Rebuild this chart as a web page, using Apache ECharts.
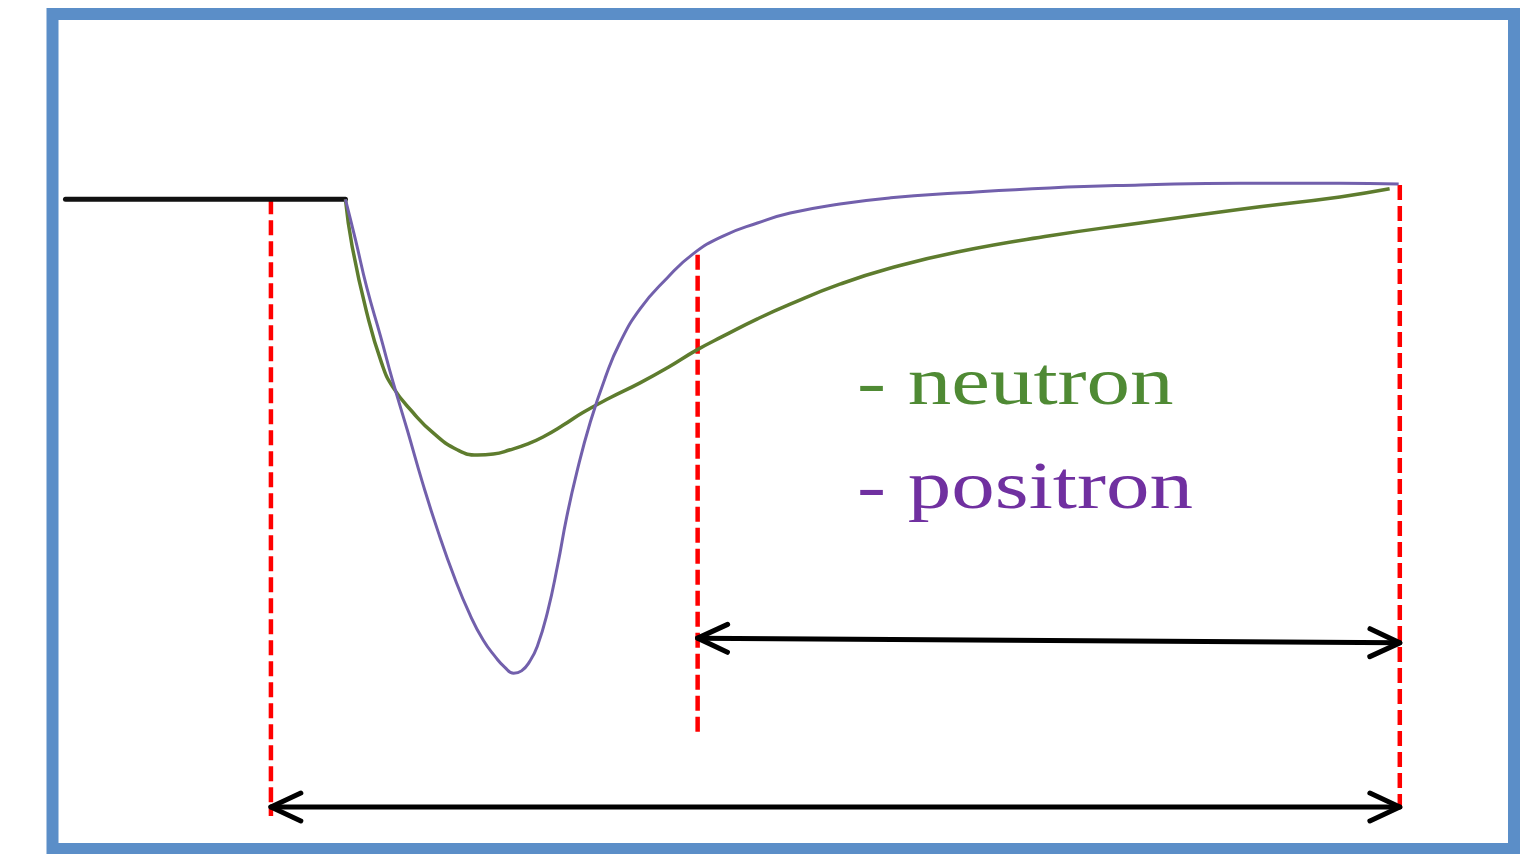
<!DOCTYPE html>
<html>
<head>
<meta charset="utf-8">
<title>neutron / positron pulse</title>
<script src="https://cdn.jsdelivr.net/npm/echarts@6.0.0/dist/echarts.min.js"></script>
<style>
  html, body { margin: 0; padding: 0; background: #fff; }
  #pulse-chart { width: 1533px; height: 854px; }
</style>
</head>
<body>
<div id="pulse-chart"></div>
<script>
// time (ns, arbitrary) and normalised amplitude
const baselineTime = [-182, 66];
const baselineAmp = [0, 0];

const positronTime = [66, 75, 85, 97, 108, 121, 134, 148, 163, 176, 188, 199, 207, 215, 222, 229, 236, 245, 254, 262, 271, 283, 296, 309, 327, 351, 374, 401, 431, 460, 504, 549, 608, 690, 770, 859, 947, 999];
const positronAmp = [0, -0.086, -0.187, -0.288, -0.384, -0.488, -0.595, -0.700, -0.800, -0.874, -0.929, -0.965, -0.986, -0.999, -0.994, -0.975, -0.942, -0.870, -0.771, -0.670, -0.575, -0.469, -0.377, -0.303, -0.231, -0.166, -0.115, -0.077, -0.050, -0.029, -0.010, 0.003, 0.013, 0.024, 0.030, 0.034, 0.034, 0.032];

const neutronTime = [66, 72, 85, 98, 108, 126, 144, 165, 183, 197, 212, 227, 241, 259, 276, 300, 327, 352, 377, 401, 431, 460, 504, 549, 608, 690, 770, 859, 947, 991];
const neutronAmp = [0, -0.100, -0.240, -0.345, -0.396, -0.450, -0.493, -0.528, -0.539, -0.537, -0.528, -0.516, -0.501, -0.476, -0.450, -0.419, -0.387, -0.354, -0.318, -0.288, -0.252, -0.221, -0.179, -0.145, -0.111, -0.077, -0.050, -0.021, 0.005, 0.022];

// red dashed gate markers
const markerTime = [0, 378, 1000];
const markerTop = [0, -0.117, 0.030];
const markerBottom = [-1.30, -1.133, -1.287];

// double arrows (start time, start amp, end time, end amp)
const arrowStartTime = [378, 0];
const arrowStartAmp = [-0.925, -1.281];
const arrowEndTime = [1000, 1000];
const arrowEndAmp = [-0.935, -1.281];

const legendLabels = ["- neutron", "- positron"];

const zip = (xs, ys) => xs.map((x, i) => [x, ys[i]]);

const drawArrow = (params, api) => {
  const p1 = api.coord([api.value(0), api.value(1)]);
  const p2 = api.coord([api.value(2), api.value(3)]);
  const ang = Math.atan2(p2[1] - p1[1], p2[0] - p1[0]);
  const arm = 33;
  const spread = (25 * Math.PI) / 180;
  // chevron points for a tip, pointing in direction dir
  const head = (tip, dir) => [
    [tip[0] - arm * Math.cos(dir - spread), tip[1] - arm * Math.sin(dir - spread)],
    tip,
    [tip[0] - arm * Math.cos(dir + spread), tip[1] - arm * Math.sin(dir + spread)],
  ];
  const style = { stroke: "#000", lineWidth: 5, fill: null, lineCap: "round", lineJoin: "round" };
  return {
    type: "group",
    children: [
      { type: "line", shape: { x1: p1[0], y1: p1[1], x2: p2[0], y2: p2[1] }, style },
      { type: "polyline", shape: { points: head(p2, ang) }, style },
      { type: "polyline", shape: { points: head(p1, ang + Math.PI) }, style },
    ],
  };
};

const initPulseChart = () => {
  const el = document.getElementById("pulse-chart");
  const chart = echarts.init(el, null, { renderer: "canvas" });

  const markerSeries = markerTime.map((t, i) => ({
    type: "line",
    data: [[t, markerTop[i]], [t, markerBottom[i]]],
    showSymbol: false,
    lineStyle: { color: "#ff0000", width: 4.5, type: [15, 6] },
    z: 2,
  }));

  const option = {
    animation: false,
    backgroundColor: "#ffffff",
    grid: { left: 0, right: 0, top: 0, bottom: 0 },
    xAxis: { type: "value", min: -240, max: 1118, show: false },
    yAxis: { type: "value", min: -1.38, max: 0.42, show: false },
    graphic: [
      {
        type: "rect",
        shape: { x: 52.5, y: 14, width: 1461.5, height: 835 },
        style: { fill: null, stroke: "#5b8ec8", lineWidth: 12 },
        z: 10,
      },
      {
        type: "text",
        x: 857,
        y: 386,
        scaleX: 1.28,
        style: {
          text: legendLabels[0],
          font: '68px "Liberation Serif"',
          fill: "#4f8a34",
          verticalAlign: "middle",
        },
      },
      {
        type: "text",
        x: 857,
        y: 490,
        scaleX: 1.28,
        style: {
          text: legendLabels[1],
          font: '68px "Liberation Serif"',
          fill: "#7030a0",
          verticalAlign: "middle",
        },
      },
    ],
    series: [
      ...markerSeries,
      {
        type: "custom",
        renderItem: drawArrow,
        data: arrowStartTime.map((t, i) => [t, arrowStartAmp[i], arrowEndTime[i], arrowEndAmp[i]]),
        encode: { x: [0, 2], y: [1, 3] },
        clip: false,
        z: 3,
      },
      {
        name: "baseline",
        type: "line",
        data: zip(baselineTime, baselineAmp),
        showSymbol: false,
        lineStyle: { color: "#111111", width: 5, cap: "round" },
        z: 4,
      },
      {
        name: "neutron",
        type: "line",
        data: zip(neutronTime, neutronAmp),
        showSymbol: false,
        smooth: 0.5,
        lineStyle: { color: "#5e7c2e", width: 3.5 },
        z: 5,
      },
      {
        name: "positron",
        type: "line",
        data: zip(positronTime, positronAmp),
        showSymbol: false,
        smooth: 0.5,
        lineStyle: { color: "#7260ac", width: 3 },
        z: 6,
      },
    ],
  };
  chart.setOption(option);
};

initPulseChart();
</script>
</body>
</html>
